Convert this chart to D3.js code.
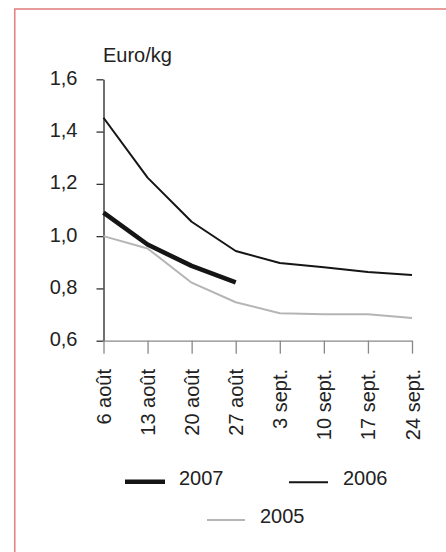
<!DOCTYPE html>
<html>
<head>
<meta charset="utf-8">
<script src="https://cdn.jsdelivr.net/npm/d3@7/dist/d3.min.js"></script>
<style>
  html, body { margin: 0; padding: 0; background: #fff; }
  svg { display: block; }
  text { font-family: "Liberation Sans", Arial, sans-serif; fill: #222; }
</style>
</head>
<body>
<svg id="chart" width="446" height="552"></svg>
<script>
const categories = ["6 août", "13 août", "20 août", "27 août", "3 sept.", "10 sept.", "17 sept.", "24 sept."];
const values2007 = [1.09, 0.968, 0.886, 0.823];
const values2006 = [1.453, 1.224, 1.055, 0.943, 0.897, 0.881, 0.863, 0.851];
const values2005 = [1.0, 0.953, 0.822, 0.747, 0.705, 0.701, 0.701, 0.687];
const yTicks = [0.6, 0.8, 1.0, 1.2, 1.4, 1.6];
const seriesNames = ["2007", "2006", "2005"];
const yUnit = "Euro/kg";

const svg = d3.select("#chart");

// frame
svg.append("rect")
  .attr("x", 14.75).attr("y", 9)
  .attr("width", 460).attr("height", 560)
  .attr("fill", "none").attr("stroke", "#e38383").attr("stroke-width", 1.6);

const x = d3.scalePoint().domain(categories).range([103.5, 412]);
const y = d3.scaleLinear().domain([0.6, 1.6]).range([340.7, 79.3]);

const fmt = v => d3.format(".1f")(v).replace(".", ",");

// y axis
const gy = svg.append("g").attr("transform", "translate(103.5,0)")
  .call(d3.axisLeft(y).tickValues(yTicks).tickFormat(fmt).tickSize(7).tickSizeOuter(0).tickPadding(19));
gy.select(".domain").attr("stroke", "#222").attr("stroke-width", 1.3);
gy.selectAll(".tick line").attr("stroke", "#333").attr("stroke-width", 1.3);
gy.selectAll(".tick text").attr("font-size", 20).attr("font-family", "Liberation Sans, Arial, sans-serif")
  .attr("fill", "#222").attr("dy", "0.25em");

// x axis
const gx = svg.append("g").attr("transform", "translate(0,340.7)")
  .call(d3.axisBottom(x).tickSize(13).tickSizeOuter(0).tickFormat(() => ""));
gx.select(".domain").attr("stroke", "#888").attr("stroke-width", 1.3);
gx.selectAll(".tick line").attr("stroke", "#888").attr("stroke-width", 1.3);

// x labels rotated
svg.append("g").selectAll("text").data(categories).join("text")
  .attr("transform", d => `translate(${x(d) + 7.5},369) rotate(-90)`)
  .attr("text-anchor", "end")
  .attr("font-size", 20)
  .text(d => d);

// y unit
svg.append("text").attr("x", 103).attr("y", 62).attr("font-size", 20).text(yUnit);

// lines
const line = d3.line().x((d, i) => x(categories[i])).y(d => y(d));
const styles = {
  "2007": { color: "#151515", width: 4.6 },
  "2006": { color: "#151515", width: 2 },
  "2005": { color: "#b5b5b5", width: 2 }
};
const data = { "2005": values2005, "2006": values2006, "2007": values2007 };
["2005", "2006", "2007"].forEach(k => {
  svg.append("path").datum(data[k])
    .attr("d", line)
    .attr("fill", "none")
    .attr("stroke", styles[k].color)
    .attr("stroke-width", styles[k].width)
    .attr("stroke-linejoin", "round");
});

// legend
const legendPos = {
  "2007": { x1: 125, x2: 165, y: 481.8, tx: 179, ty: 484.5 },
  "2006": { x1: 289, x2: 328, y: 482.3, tx: 343, ty: 484.5 },
  "2005": { x1: 207, x2: 245, y: 520, tx: 260, ty: 522.5 }
};
seriesNames.forEach(k => {
  const p = legendPos[k];
  svg.append("line").attr("x1", p.x1).attr("x2", p.x2).attr("y1", p.y).attr("y2", p.y)
    .attr("stroke", styles[k].color).attr("stroke-width", styles[k].width);
  svg.append("text").attr("x", p.tx).attr("y", p.ty).attr("font-size", 20).text(k);
});
</script>
</body>
</html>
